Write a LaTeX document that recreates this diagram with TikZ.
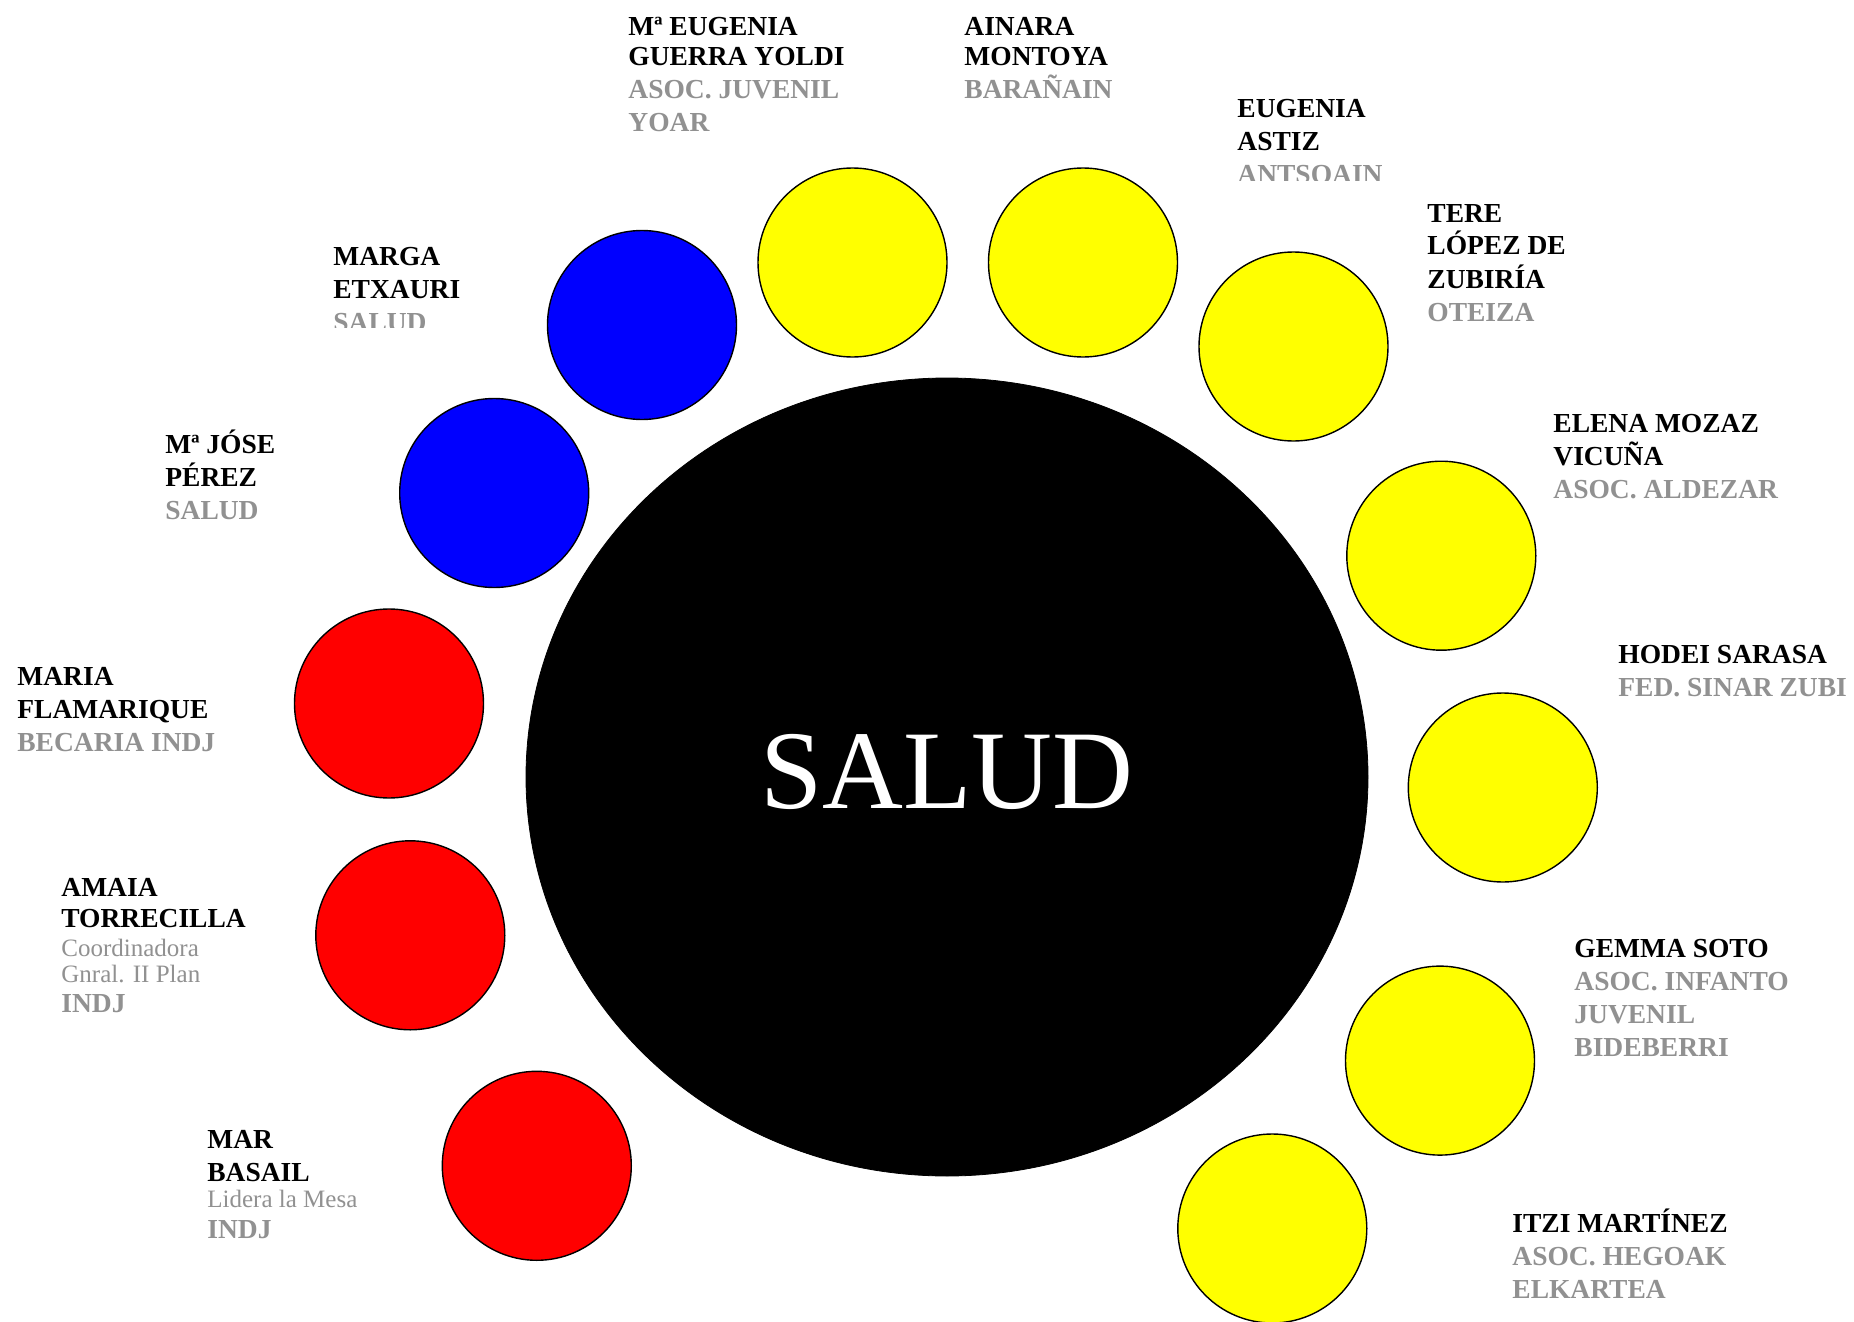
\documentclass[tikz,border=0pt]{standalone}
\usepackage{fontspec}
\setmainfont{Liberation Serif}
\usetikzlibrary{shapes.geometric}
\definecolor{tg}{RGB}{145,145,145}
\definecolor{cy}{RGB}{255,255,0}
\definecolor{cb}{RGB}{0,0,255}
\definecolor{cr}{RGB}{255,0,0}
\newcommand\lnb[1]{\hbox{\bfseries #1}}
\newcommand\lng[1]{\hbox{\bfseries\color{tg}#1}}
\newcommand\lns[1]{\hbox{\fontsize{12.5}{16.5}\selectfont\color{tg}#1}}
\begin{document}
\begin{tikzpicture}[x=0.5pt,y=-0.5pt,
  member/.style={circle,draw=black,line width=0.7pt,minimum size=94.5pt,inner sep=0pt},
  yel/.style={member,fill=cy},
  blu/.style={member,fill=cb},
  red/.style={member,fill=cr},
  lbl/.style={anchor=base west,inner sep=0pt,font=\fontsize{13.75}{16.5}\selectfont}]
\useasboundingbox (0,0) rectangle (1854,1322);
\fill[white] (0,0) rectangle (1854,1322);
% central circle
\node[ellipse,fill=black,draw=black,minimum width=421pt,minimum height=399pt,inner sep=0pt,
      text=white,font=\fontsize{56}{60}\selectfont,text depth=6pt] (salud) at (947,777) {SALUD};
% member circles
\node[yel] (c1) at (852.5,262.5) {};
\node[yel] (c2) at (1083,262.5) {};
\node[yel] (c3) at (1293.5,346.5) {};
\node[yel] (c4) at (1441.3,555.7) {};
\node[yel] (c5) at (1502.8,787.5) {};
\node[yel] (c6) at (1440,1060.6) {};
\node[yel] (c7) at (1272.3,1228.5) {};
\node[red] (c8) at (536.8,1165.8) {};
\node[red] (c9) at (410.3,935.3) {};
\node[red] (c10) at (389,703.5) {};
\node[blu] (c11) at (494.2,493) {};
\node[blu] (c12) at (642,325) {};
% labels
\node[lbl] (l1) at (628,36) {\vtop{\lnb{Mª EUGENIA}\vskip-1.5pt\lnb{GUERRA YOLDI}\lng{ASOC. JUVENIL}\lng{YOAR}}};
\node[lbl] (l2) at (964,36) {\vtop{\lnb{AINARA}\vskip-1.5pt\lnb{MONTOYA}\lng{BARAÑAIN}}};
\begin{scope}
\clip (0,0) rectangle (1854,181);
\node[lbl] (l3) at (1237,118) {\vtop{\lnb{EUGENIA}\lnb{ASTIZ}\lng{ANTSOAIN}}};
\end{scope}
\node[lbl] (l4) at (1427,222) {\vtop{\lnb{TERE}\lnb{LÓPEZ DE}\lnb{ZUBIRÍA}\lng{OTEIZA}}};
\node[lbl] (l5) at (1553,432) {\vtop{\lnb{ELENA MOZAZ}\lnb{VICUÑA}\lng{ASOC. ALDEZAR}}};
\node[lbl] (l6) at (1618,663) {\vtop{\lnb{HODEI SARASA}\lng{FED. SINAR ZUBI}}};
\node[lbl] (l7) at (1574,957) {\vtop{\lnb{GEMMA SOTO}\lng{ASOC. INFANTO}\lng{JUVENIL}\lng{BIDEBERRI}}};
\node[lbl] (l8) at (1512,1232) {\vtop{\lnb{ITZI MARTÍNEZ}\lng{ASOC. HEGOAK}\lng{ELKARTEA}}};
\node[lbl] (l9) at (207,1148) {\vtop{\lnb{MAR}\lnb{BASAIL}\vskip-3.5pt\lns{Lidera la Mesa}\vskip-1pt\lng{INDJ}}};
\node[lbl] (l10) at (61,896) {\vtop{\lnb{AMAIA}\vskip-1pt\lnb{TORRECILLA}\vskip-2pt\lns{Coordinadora}\vskip-3.5pt\lns{Gnral. II Plan}\vskip-1.5pt\lng{INDJ}}};
\node[lbl] (l11) at (17,685) {\vtop{\lnb{MARIA}\lnb{FLAMARIQUE}\lng{BECARIA INDJ}}};
\node[lbl] (l12) at (165,453) {\vtop{\lnb{Mª JÓSE}\lnb{PÉREZ}\lng{SALUD}}};
\begin{scope}
\clip (0,0) rectangle (1854,327);
\node[lbl] (l13) at (333,265) {\vtop{\lnb{MARGA}\lnb{ETXAURI}\lng{SALUD}}};
\end{scope}
\end{tikzpicture}
\end{document}
